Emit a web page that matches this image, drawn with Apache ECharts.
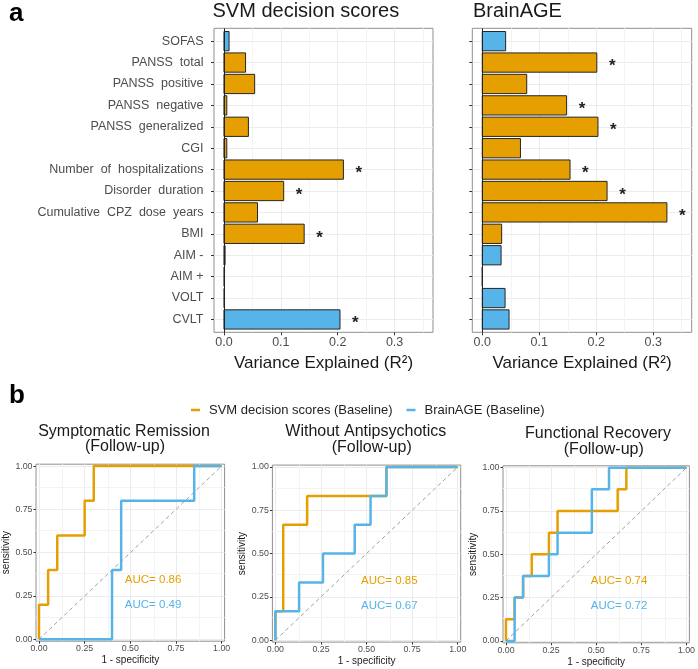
<!DOCTYPE html>
<html><head><meta charset="utf-8">
<script src="https://cdn.jsdelivr.net/npm/echarts@6/dist/echarts.min.js"></script>
<style>html,body{margin:0;padding:0;background:#fff}#c{width:698px;height:669px}</style>
</head><body><div id="c"></div>
<script>
// ---------- Panel a data ----------
const categories = ['SOFAS','PANSS total','PANSS positive','PANSS negative','PANSS generalized','CGI',
  'Number of hospitalizations','Disorder duration','Cumulative CPZ dose years','BMI','AIM -','AIM +','VOLT','CVLT'];
// 1 = functional / cognitive measure (blue), 0 = clinical measure (orange)
const domain = [1,0,0,0,0,0,0,0,0,0,1,1,1,1];
const svmR2 = [0.009,0.038,0.054,0.005,0.043,0.005,0.210,0.105,0.059,0.141,0.002,0.001,0.001,0.204];
const svmSig = [0,0,0,0,0,0,1,1,0,1,0,0,0,1];
const brainAgeR2 = [0.041,0.201,0.078,0.148,0.203,0.067,0.154,0.219,0.324,0.034,0.033,0.000,0.040,0.047];
const brainAgeSig = [0,1,0,1,1,0,1,1,1,0,0,0,0,0];
const r2Ticks = [0,0.1,0.2,0.3];
const r2Minor = [0.05,0.15,0.25,0.35];

// ---------- Panel b data (ROC points: 1-specificity, sensitivity) ----------
const rocTitles = ['Symptomatic Remission','Without Antipsychotics','Functional Recovery'];
const svmFpr = [
  [0,0,0.05,0.05,0.10,0.10,0.25,0.25,0.30,0.30,1],
  [0,0,0.043,0.043,0.174,0.174,0.609,0.609,1],
  [0,0,0.048,0.048,0.095,0.095,0.143,0.143,0.238,0.238,0.286,0.286,0.619,0.619,0.667,0.667,1]
];
const svmTpr = [
  [0,0.2,0.2,0.4,0.4,0.6,0.6,0.8,0.8,1,1],
  [0,0.167,0.167,0.667,0.667,0.833,0.833,1,1],
  [0,0.125,0.125,0.25,0.25,0.375,0.375,0.5,0.5,0.625,0.625,0.75,0.75,0.875,0.875,1,1]
];
const brainFpr = [
  [0,0.40,0.40,0.45,0.45,0.85,0.85,1],
  [0,0,0.130,0.130,0.261,0.261,0.435,0.435,0.522,0.522,0.609,0.609,1],
  [0,0.048,0.048,0.095,0.095,0.238,0.238,0.286,0.286,0.476,0.476,0.571,0.571,1]
];
const brainTpr = [
  [0,0,0.4,0.4,0.8,0.8,1,1],
  [0,0.167,0.167,0.333,0.333,0.5,0.5,0.667,0.667,0.833,0.833,1,1],
  [0,0,0.25,0.25,0.375,0.375,0.5,0.5,0.625,0.625,0.875,0.875,1,1]
];
const aucSvm = [0.86,0.85,0.74];
const aucBrain = [0.49,0.67,0.72];
const rocTicks = [0,0.25,0.5,0.75,1];
const rocMinor = [0.125,0.375,0.625,0.875];

// ---------- styling ----------
const ORANGE = '#E69F00', BLUE = '#56B4E9';
const FONT = '"Liberation Sans", Arial, sans-serif';
const GRID_MAJOR = '#ebebeb', GRID_MINOR = '#f3f3f3', BORDER = '#8f8f8f', AXTXT = '#4d4d4d';
const SVM_NAME = 'SVM decision scores (Baseline)', BRAIN_NAME = 'BrainAGE (Baseline)';

const chart = echarts.init(document.getElementById('c'), null, {renderer: 'canvas'});

const grids = [
  {left: 214, top: 28.3, width: 219, height: 304, show: true, borderColor: BORDER, borderWidth: 1, backgroundColor: '#fff'},
  {left: 472.3, top: 28.3, width: 219.4, height: 304, show: true, borderColor: BORDER, borderWidth: 1, backgroundColor: '#fff'},
  {left: 36, top: 464.2, width: 188.6, height: 177, show: true, borderColor: BORDER, borderWidth: 1, backgroundColor: '#fff'},
  {left: 272.4, top: 465.1, width: 188.3, height: 177, show: true, borderColor: BORDER, borderWidth: 1, backgroundColor: '#fff'},
  {left: 503, top: 465.8, width: 187.7, height: 177, show: true, borderColor: BORDER, borderWidth: 1, backgroundColor: '#fff'}
];

const xAxes = [], yAxes = [];
// bar panels: axes index 0 and 1
[0,1].forEach(g => {
  xAxes.push({type: 'value', gridIndex: g, min: -0.0175, max: 0.3675, position: 'bottom',
    axisLine: {show: false, onZero: false},
    axisTick: {show: true, length: 3, customValues: r2Ticks, lineStyle: {color: '#333', width: 1}},
    axisLabel: {customValues: r2Ticks, formatter: v => v.toFixed(1), color: AXTXT, fontSize: 12.5, margin: 4, fontFamily: FONT},
    splitLine: {show: true, lineStyle: {color: GRID_MAJOR, width: 1}},
    name: 'Variance Explained (R²)', nameLocation: 'middle', nameGap: 23,
    nameTextStyle: {fontSize: 17, color: '#1a1a1a', fontFamily: FONT}
  });
  const idx = categories.map((_, i) => i);
  yAxes.push({type: 'value', gridIndex: g, min: -0.6, max: 13.6, inverse: true, position: 'left',
    axisLine: {show: false, onZero: false},
    axisTick: {show: true, length: 3, customValues: idx, lineStyle: {color: '#333', width: 1}},
    axisLabel: {show: g === 0, customValues: idx, color: AXTXT, fontSize: 12.5, margin: 10.5, fontFamily: FONT,
      formatter: v => (categories[Math.round(v)] || '').replace(/ (?=[A-Za-z])/g, '  ')},
    splitLine: {show: true, lineStyle: {color: GRID_MAJOR, width: 1}}
  });
});
// ROC panels: axes index 2,3,4
[2,3,4].forEach(g => {
  xAxes.push({type: 'value', gridIndex: g, min: -0.0164, max: 1.0164, position: 'bottom',
    axisLine: {show: false, onZero: false},
    axisTick: {show: true, length: 2.5, customValues: rocTicks, lineStyle: {color: '#333', width: 1}},
    axisLabel: {customValues: rocTicks, formatter: v => v.toFixed(2), color: AXTXT, fontSize: 8.8, margin: 3, fontFamily: FONT},
    splitLine: {show: true, lineStyle: {color: GRID_MAJOR, width: 1}},
    name: '1 - specificity', nameLocation: 'middle', nameGap: 14,
    nameTextStyle: {fontSize: 10, color: '#1a1a1a', fontFamily: FONT}
  });
  yAxes.push({type: 'value', gridIndex: g, min: -0.011, max: 1.011, position: 'left',
    axisLine: {show: false, onZero: false},
    axisTick: {show: true, length: 2.5, customValues: rocTicks, lineStyle: {color: '#333', width: 1}},
    axisLabel: {customValues: rocTicks, formatter: v => v.toFixed(2), color: AXTXT, fontSize: 8.8, margin: 3.5, fontFamily: FONT},
    splitLine: {show: true, lineStyle: {color: GRID_MAJOR, width: 1}},
    name: 'sensitivity', nameLocation: 'middle', nameGap: 25,
    nameTextStyle: {fontSize: 10, color: '#1a1a1a', fontFamily: FONT}
  });
});

// minor grid lines (drawn beneath the marks) via an empty helper series
function minorGrid(ai, xVals, yVals) {
  const data = xVals.map(v => ({xAxis: v})).concat(yVals.map(v => ({yAxis: v})));
  return {type: 'line', name: 'minor', xAxisIndex: ai, yAxisIndex: ai, data: [], z: 1, silent: true,
    markLine: {silent: true, symbol: 'none', label: {show: false}, animation: false, z: 1,
      lineStyle: {color: GRID_MINOR, width: 1, type: 'solid'}, data}};
}

function barSeries(values, sig, ai) {
  return {
    type: 'custom', xAxisIndex: ai, yAxisIndex: ai, z: 3,
    data: values.map((v, i) => [v, i, domain[i], sig[i]]),
    encode: {x: 0, y: 1},
    renderItem: (params, api) => {
      const v = api.value(0), i = api.value(1);
      const p0 = api.coord([0, i]), p1 = api.coord([v, i]);
      const h = api.size([0, 0.9])[1];
      const children = [{
        type: 'rect',
        shape: {x: p0[0], y: p0[1] - h / 2, width: p1[0] - p0[0], height: h},
        style: {fill: api.value(2) ? BLUE : ORANGE, stroke: '#262626', lineWidth: 1}
      }];
      if (api.value(3)) {
        const ps = api.coord([v + 0.027, i]);
        children.push({type: 'text', x: ps[0], y: ps[1] + 4,
          style: {text: '*', fill: '#222', font: 'bold 17px ' + FONT, align: 'center', verticalAlign: 'middle'}});
      }
      return {type: 'group', children};
    },
    markLine: {silent: true, symbol: 'none', label: {show: false}, z: 4,
      lineStyle: {color: '#222', width: 1, type: 'solid'}, data: [{xAxis: 0}]}
  };
}

const series = [
  minorGrid(0, r2Minor, []),
  minorGrid(1, r2Minor, []),
  barSeries(svmR2, svmSig, 0),
  barSeries(brainAgeR2, brainAgeSig, 1)
];

for (let k = 0; k < 3; k++) {
  const ai = 2 + k;
  series.push(minorGrid(ai, rocMinor, rocMinor));
  series.push({type: 'line', name: 'diag', xAxisIndex: ai, yAxisIndex: ai, silent: true, showSymbol: false,
    data: [[0, 0], [1, 1]], lineStyle: {color: '#a0a0a0', width: 1, type: [4, 3]}, z: 2});
  series.push({type: 'line', name: SVM_NAME, xAxisIndex: ai, yAxisIndex: ai, showSymbol: false,
    data: svmFpr[k].map((x, j) => [x, svmTpr[k][j]]), color: ORANGE,
    lineStyle: {color: ORANGE, width: 2.5}, itemStyle: {color: ORANGE}, z: 3});
  series.push({type: 'line', name: BRAIN_NAME, xAxisIndex: ai, yAxisIndex: ai, showSymbol: false,
    data: brainFpr[k].map((x, j) => [x, brainTpr[k][j]]), color: BLUE,
    lineStyle: {color: BLUE, width: 2.5}, itemStyle: {color: BLUE}, z: 4});
  series.push({type: 'custom', name: 'auc', xAxisIndex: ai, yAxisIndex: ai, z: 5,
    data: [[0.47, 0.345, aucSvm[k], 0], [0.47, 0.2, aucBrain[k], 1]],
    encode: {x: 0, y: 1},
    renderItem: (params, api) => {
      const p = api.coord([api.value(0), api.value(1)]);
      return {type: 'text', x: p[0], y: p[1],
        style: {text: 'AUC= ' + api.value(2).toFixed(2), fill: api.value(3) ? BLUE : ORANGE,
          font: '11.5px ' + FONT, align: 'left', verticalAlign: 'middle'}};
    }
  });
}

function txt(text, x, y, size, opts) {
  opts = opts || {};
  return {type: 'text', x, y, silent: true,
    style: {text, fill: opts.color || '#1a1a1a', font: (opts.bold ? 'bold ' : '') + size + 'px ' + FONT,
      align: opts.align || 'left', verticalAlign: 'middle'}};
}

const graphic = [
  txt('a', 9, 14, 26, {bold: true, color: '#000'}),
  txt('SVM decision scores', 212.5, 11, 20),
  txt('BrainAGE', 473, 11, 20),
  txt('b', 9, 395.5, 26, {bold: true, color: '#000'}),
  txt(rocTitles[0], 124, 431.2, 16, {align: 'center'}),
  txt('(Follow-up)', 125, 446.5, 16, {align: 'center'}),
  txt(rocTitles[1], 365.8, 432, 16, {align: 'center'}),
  txt('(Follow-up)', 371.7, 447.8, 16, {align: 'center'}),
  txt(rocTitles[2], 598, 433.5, 16, {align: 'center'}),
  txt('(Follow-up)', 603.8, 449.8, 16, {align: 'center'})
];

chart.setOption({
  animation: false,
  backgroundColor: '#fff',
  textStyle: {fontFamily: FONT},
  grid: grids,
  xAxis: xAxes,
  yAxis: yAxes,
  legend: {data: [SVM_NAME, BRAIN_NAME], left: 191, top: 403.5, icon: 'rect', itemWidth: 9, itemHeight: 2.5,
    itemGap: 14, selectedMode: false, padding: 0,
    textStyle: {fontSize: 13, color: '#222', fontFamily: FONT, padding: [0, 0, 0, 4]}},
  graphic: graphic,
  series: series
});
</script>
</body></html>
